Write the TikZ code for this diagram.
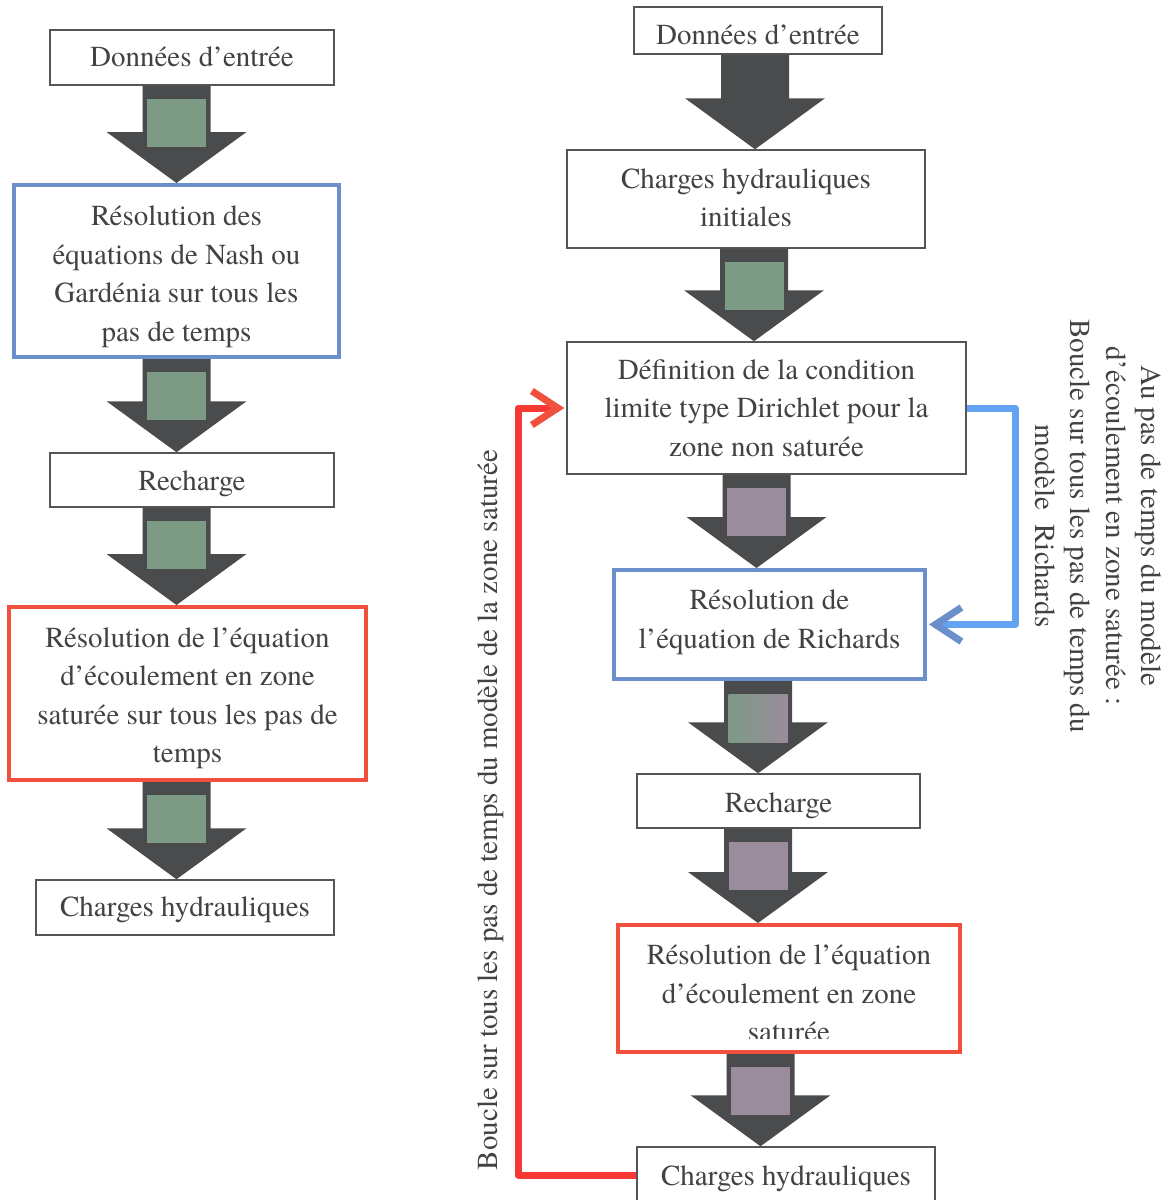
\documentclass[tikz,border=0pt]{standalone}
\usepackage{fontspec}
\setmainfont{TeX Gyre Termes}
\usetikzlibrary{arrows.meta,calc}
\definecolor{arrowfill}{HTML}{4A4B4D}
\definecolor{greensq}{HTML}{7C9A84}
\definecolor{purplesq}{HTML}{9A8C9C}
\definecolor{boxline}{HTML}{555555}
\definecolor{blueline}{HTML}{6A8FCA}
\definecolor{redline}{HTML}{F0503C}
\definecolor{loopblue}{HTML}{64A2F2}
\definecolor{loopred}{HTML}{F53A36}
\definecolor{textgray}{HTML}{424242}
\tikzset{
  txt/.style={text=textgray, font=\fontsize{29}{38.5}\selectfont, inner sep=0pt},
  plainbox/.style={txt, draw=boxline, line width=1.5pt, fill=white},
  bluebox/.style={txt, draw=blueline, line width=4pt, fill=white},
  redbox/.style={txt, draw=redline, line width=4pt, fill=white},
}
\newcommand{\tl}[2]{\raisebox{#1}[\height][\depth]{\begin{tabular}{@{}c@{}}#2\end{tabular}}}
\newcommand{\flowarrow}[3]{%
  \fill[arrowfill] let \p1=(#1), \p2=(#2) in
    (\x1-34pt,\y1) -- (\x1+34pt,\y1) -- (\x1+34pt,\y2+51pt) -- (\x1+70pt,\y2+51pt)
    -- (\x1,\y2) -- (\x1-70pt,\y2+51pt) -- (\x1-34pt,\y2+51pt) -- cycle;
  \path[#3] let \p1=(#1) in (\x1-29.5pt,\y1-13pt) rectangle (\x1+29.5pt,\y1-61pt);
}
\begin{document}
\begin{tikzpicture}[x=1pt,y=-1pt]
\useasboundingbox (0,0) rectangle (1171,1200);
% left column
\node[plainbox, minimum width=284pt, minimum height=55pt] (L1) at (192,57.5) {\tl{-1pt}{Données d’entrée}};
\node[bluebox, minimum width=325pt, minimum height=172pt] (L2) at (176.5,271) {\tl{-5pt}{Résolution des\\équations de Nash ou\\Gardénia sur tous les\\pas de temps}};
\node[plainbox, minimum width=284pt, minimum height=54pt] (L3) at (192,480) {\tl{-3pt}{Recharge}};
\node[redbox, minimum width=357pt, minimum height=173pt] (L4) at (187.5,693.5) {\tl{-4pt}{Résolution de l’équation\\d’écoulement en zone\\saturée sur tous les pas de\\temps}};
\node[plainbox, minimum width=298pt, minimum height=55pt] (L5) at (185,907.5) {\tl{-1pt}{Charges hydrauliques}};
% right column
\node[plainbox, minimum width=248pt, minimum height=47pt] (R1) at (758,30.5) {\tl{-6pt}{Données d’entrée}};
\node[plainbox, minimum width=358pt, minimum height=98pt] (R2) at (746,199) {\tl{-1pt}{Charges hydrauliques\\initiales}};
\node[plainbox, minimum width=399pt, minimum height=132pt] (R3) at (766.5,408) {\tl{-2pt}{Définition de la condition\\limite type Dirichlet pour la\\zone non saturée}};
\node[bluebox, minimum width=311pt, minimum height=109pt] (R4) at (769.5,624.5) {\tl{3pt}{Résolution de\\l’équation de Richards}};
\node[plainbox, minimum width=283pt, minimum height=54pt] (R5) at (778.5,801) {\tl{-4pt}{Recharge}};
\node[redbox, minimum width=342pt, minimum height=127pt] (R6) at (789,988.5) {\tl{-7pt}{Résolution de l’équation\\d’écoulement en zone\\saturée}};
\fill[white] (622,1039) rectangle (956,1050);
\node[plainbox, minimum width=298pt, minimum height=56pt] (R7) at (786,1175) {\tl{-3pt}{Charges hydrauliques}};
% arrows left
\coordinate (la1) at (L2.center |- L1.south);
\coordinate (la2) at (L2.center |- L2.south);
\coordinate (la3) at (L2.center |- L3.south);
\coordinate (la4) at (L2.center |- L4.south);
\flowarrow{la1}{la1 |- L2.north}{fill=greensq}
\flowarrow{la2}{la2 |- L3.north}{fill=greensq}
\flowarrow{la3}{la3 |- L4.north}{fill=greensq}
\flowarrow{la4}{la4 |- L5.north}{fill=greensq}
% arrows right
\coordinate (ra1) at ($(R1.south)+(-3,0)$);
\coordinate (ra2) at ($(R2.south)+(8,0)$);
\coordinate (ra3) at ($(R3.south)+(-10,0)$);
\coordinate (ra4) at ($(R4.south)+(-11.5,0)$);
\coordinate (ra5) at ($(R5.south)+(-20.5,0)$);
\coordinate (ra6) at ($(R6.south)+(-28.5,0)$);
\flowarrow{ra1}{ra1 |- R2.north}{draw=none}
\flowarrow{ra2}{ra2 |- R3.north}{fill=greensq}
\flowarrow{ra3}{ra3 |- R4.north}{fill=purplesq}
\flowarrow{ra4}{ra4 |- R5.north}{left color=greensq, right color=purplesq}
\flowarrow{ra5}{ra5 |- R6.north}{fill=purplesq}
\flowarrow{ra6}{ra6 |- R7.north}{fill=purplesq}
% loops
\coordinate (bl1) at (1015,0 |- R3.east);
\coordinate (bl2) at (1015,0 |- R4.east);
\draw[loopblue, line width=7pt, line join=round, -{Straight Barb[length=26pt,width=34pt,color=blueline]}]
  (R3.east) -- (bl1) -- (bl2) -- ([xshift=2pt]R4.east);
\coordinate (rl1) at (518,0 |- R7.west);
\coordinate (rl2) at (518,0 |- R3.west);
\draw[loopred, line width=7pt, line join=round, -{Straight Barb[length=26pt,width=34pt,color=redline]}]
  (R7.west) -- (rl1) -- (rl2) -- ([xshift=-2pt]R3.west);
% vertical labels
\node[txt, rotate=90] (leftlbl) at (491,810) {Boucle sur tous les pas de temps du modèle de la zone saturée};
\node[txt, rotate=-90, align=center, font=\fontsize{29}{35.5}\selectfont] (rightlbl) at (1098,526) {Au pas de temps du modèle\\d’écoulement en zone saturée :\\Boucle sur tous les pas de temps du\\modèle\ \ Richards};
\end{tikzpicture}
\end{document}
